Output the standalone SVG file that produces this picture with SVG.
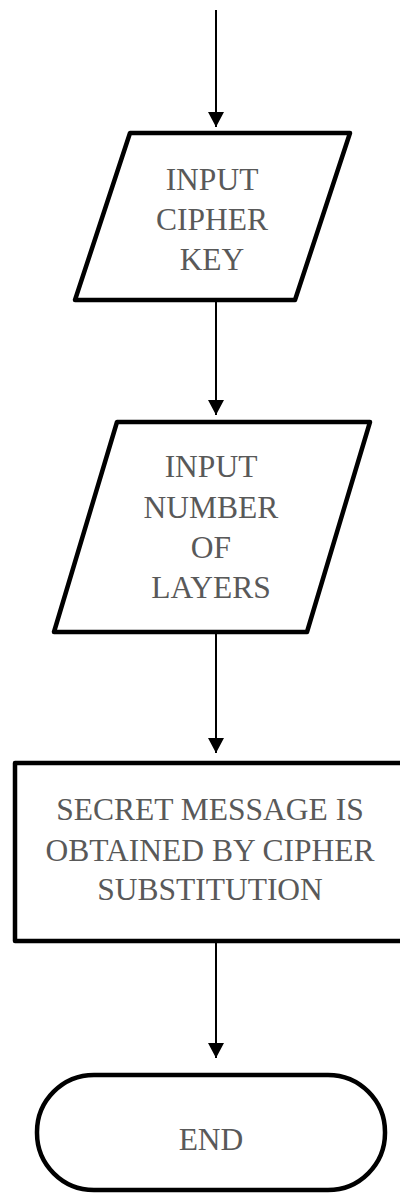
<svg xmlns="http://www.w3.org/2000/svg" width="400" height="1197" viewBox="0 0 400 1197">
<style>
.shape{fill:#fff;stroke:#000;stroke-width:4.5;stroke-linejoin:round}
.edge{stroke:#000;stroke-width:2;fill:none}
.lbl{font-size:31.5px;fill:#595959;text-anchor:middle}
</style>
<defs>
<marker id="ah" markerUnits="userSpaceOnUse" markerWidth="16" markerHeight="16" refX="15" refY="8" orient="auto">
<path d="M0,0 L15,8 L0,16 Z" fill="#000"/>
</marker>
</defs>
<rect width="400" height="1197" fill="#fff"/>
<g id="connectors">
<line class="edge" x1="216" y1="10" x2="216" y2="127" marker-end="url(#ah)"/>
<line class="edge" x1="216" y1="300" x2="216" y2="415" marker-end="url(#ah)"/>
<line class="edge" x1="216" y1="632" x2="216" y2="753" marker-end="url(#ah)"/>
<line class="edge" x1="216" y1="942" x2="216" y2="1058" marker-end="url(#ah)"/>
</g>
<g font-family="'Liberation Serif', 'DejaVu Serif', serif">
<g id="input-key">
<polygon class="shape" points="130,133 350,133 295,300 75,300"/>
<text class="lbl" x="212" y="190">INPUT</text>
<text class="lbl" x="212" y="230">CIPHER</text>
<text class="lbl" x="212" y="270">KEY</text>
</g>
<g id="input-layers">
<polygon class="shape" points="117,422 370,422 307,632 54,632"/>
<text class="lbl" x="211" y="477">INPUT</text>
<text class="lbl" x="211" y="518">NUMBER</text>
<text class="lbl" x="211" y="558">OF</text>
<text class="lbl" x="211" y="598">LAYERS</text>
</g>
<g id="process">
<rect class="shape" x="15" y="763" width="390" height="178"/>
<text class="lbl" x="210" y="820">SECRET MESSAGE IS</text>
<text class="lbl" x="210" y="861">OBTAINED BY CIPHER</text>
<text class="lbl" x="210" y="900">SUBSTITUTION</text>
</g>
<g id="end">
<rect class="shape" x="37" y="1075" width="348" height="115" rx="57" ry="57"/>
<text class="lbl" x="211" y="1150">END</text>
</g>
</g>
</svg>
